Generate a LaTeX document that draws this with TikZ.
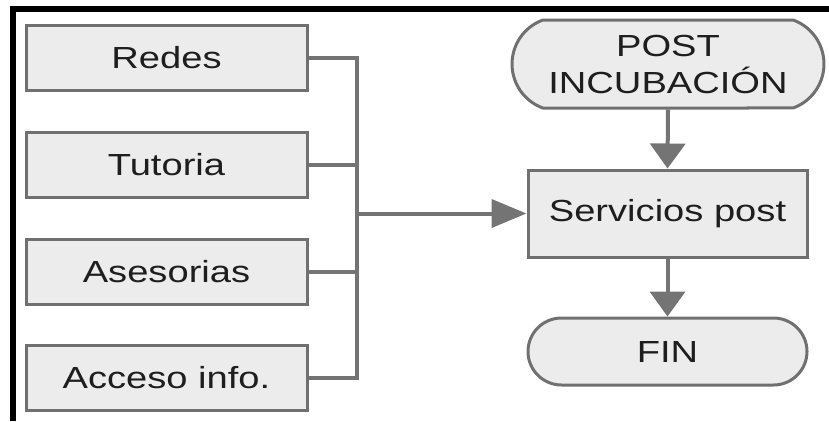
\documentclass[tikz,border=0pt]{standalone}
\usepackage{fontspec}
\setmainfont{Liberation Sans}[FakeStretch=1.25]
\usetikzlibrary{arrows.meta,shapes.misc}
\definecolor{boxfill}{HTML}{ECECEC}
\definecolor{boxline}{HTML}{707070}
\definecolor{wire}{HTML}{747474}
\definecolor{ink}{HTML}{1E1E1E}
\tikzset{
  stepbox/.style={draw=boxline, line width=3pt, fill=boxfill, text=ink,
    rectangle, inner sep=0pt, align=center,
    font=\fontsize{30.5}{37}\selectfont},
  termbox/.style={stepbox, rounded rectangle},
  wireline/.style={draw=wire, line width=4pt},
  harrow/.style={wireline, -{Triangle[length=35pt,width=28pt]}},
  varrow/.style={wireline, -{Triangle[length=25pt,width=35pt]}},
}
\begin{document}
\begin{tikzpicture}[x=1pt,y=-1pt]
\useasboundingbox (0,0) rectangle (829,421);
% frame edges
\fill[black] (10,6) rectangle (829,12);
\fill[black] (10,6) rectangle (16,421);

% left column of services
\node[stepbox, minimum width=281pt, minimum height=65pt] (redes)    at (166.5,57.5) {Redes};
\node[stepbox, minimum width=281pt, minimum height=65pt] (tutoria)  at (166.5,165)  {Tutoria};
\node[stepbox, minimum width=281pt, minimum height=65pt] (asesor)   at (166.5,271.5) {Asesorias};
\node[stepbox, minimum width=281pt, minimum height=65pt] (acceso)   at (166.5,378)  {Acceso info.};

% right column
\node[termbox, rounded rectangle arc length=140, minimum width=312pt, minimum height=88pt] (post) at (668,64) {POST\\INCUBACIÓN};
\node[stepbox, minimum width=279pt, minimum height=87pt] (serv) at (667.5,213.5) {Servicios post};
\node[termbox, minimum width=279pt, minimum height=67pt] (fin)  at (667.5,351.5) {FIN};

% collecting bus
\coordinate (bus) at (357,213.5);
\draw[wireline] (redes.east) -| (bus);
\draw[wireline] (tutoria.east) -| (bus);
\draw[wireline] (asesor.east) -| (bus);
\draw[wireline] (acceso.east) -| (bus);
\draw[harrow] (bus) -- (serv.west);

% main flow
\draw[varrow] (post.south) -- (serv.north);
\draw[varrow] (serv.south) -- (fin.north);
\end{tikzpicture}
\end{document}
